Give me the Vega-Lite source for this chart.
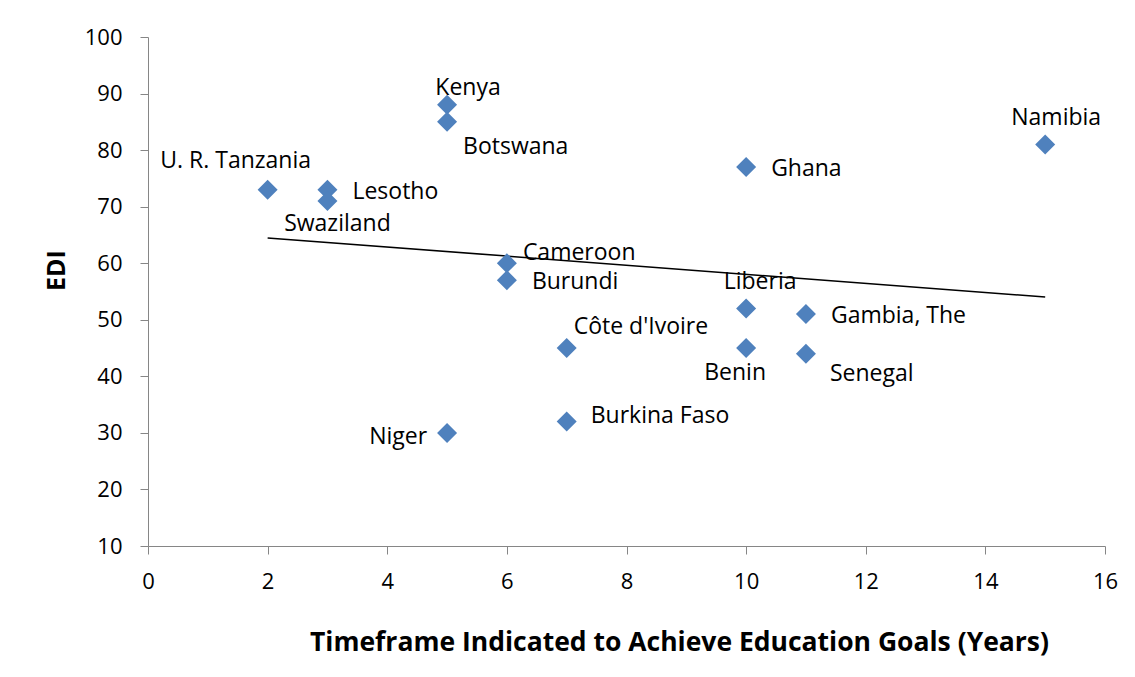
{
  "$schema": "https://vega.github.io/schema/vega-lite/v6.json",
  "width": 957,
  "height": 509,
  "autosize": {"type": "none"},
  "padding": {"left": 148, "top": 37, "right": 30, "bottom": 131},
  "background": "white",
  "config": {
    "view": {"stroke": null},
    "font": "Open Sans",
    "text": {"font": "Open Sans", "fontSize": 23, "color": "black"}
  },
  "data": {
    "values": [
      {"country": "U. R. Tanzania", "years": 2, "EDI": 73},
      {"country": "Lesotho", "years": 3, "EDI": 73},
      {"country": "Swaziland", "years": 3, "EDI": 71},
      {"country": "Kenya", "years": 5, "EDI": 88},
      {"country": "Botswana", "years": 5, "EDI": 85},
      {"country": "Niger", "years": 5, "EDI": 30},
      {"country": "Cameroon", "years": 6, "EDI": 60},
      {"country": "Burundi", "years": 6, "EDI": 57},
      {"country": "Côte d'Ivoire", "years": 7, "EDI": 45},
      {"country": "Burkina Faso", "years": 7, "EDI": 32},
      {"country": "Ghana", "years": 10, "EDI": 77},
      {"country": "Liberia", "years": 10, "EDI": 52},
      {"country": "Benin", "years": 10, "EDI": 45},
      {"country": "Gambia, The", "years": 11, "EDI": 51},
      {"country": "Senegal", "years": 11, "EDI": 44},
      {"country": "Namibia", "years": 15, "EDI": 81}
    ]
  },
  "encoding": {
    "x": {
      "field": "years", "type": "quantitative",
      "scale": {"domain": [0, 16], "nice": false, "zero": false},
      "axis": {
        "values": [0, 2, 4, 6, 8, 10, 12, 14, 16],
        "grid": false, "labelFlush": false,
        "domainColor": "#868686", "tickColor": "#868686",
        "tickSize": 8, "labelPadding": 17,
        "labelFont": "Open Sans", "labelFontSize": 22, "labelColor": "black",
        "title": "Timeframe Indicated to Achieve Education Goals (Years)",
        "titleFont": "Open Sans", "titleFontSize": 26.5, "titleFontWeight": "bold", "titleColor": "black",
        "titleX": 531, "titleY": 96, "titleAlign": "center", "titleBaseline": "middle"
      }
    },
    "y": {
      "field": "EDI", "type": "quantitative",
      "scale": {"domain": [10, 100], "nice": false, "zero": false},
      "axis": {
        "values": [10, 20, 30, 40, 50, 60, 70, 80, 90, 100],
        "grid": false, "labelFlush": false,
        "domainColor": "#868686", "tickColor": "#868686",
        "tickSize": 8, "labelPadding": 18,
        "labelFont": "Open Sans", "labelFontSize": 22, "labelColor": "black",
        "title": "EDI",
        "titleFont": "Open Sans", "titleFontSize": 25, "titleFontWeight": "bold", "titleColor": "black",
        "titleX": -92, "titleY": 233, "titleAlign": "center", "titleBaseline": "middle", "titleAngle": -90
      }
    }
  },
  "layer": [
    {
      "transform": [{"regression": "EDI", "on": "years"}],
      "mark": {"type": "line", "color": "black", "strokeWidth": 1.5}
    },
    {
      "mark": {"type": "point", "shape": "diamond", "filled": true, "size": 400, "color": "#4F81BD", "opacity": 1}
    },
    {
      "transform": [{"filter": {"field": "country", "oneOf": ["Lesotho", "Ghana", "Burundi", "Gambia, The"]}}],
      "mark": {"type": "text", "align": "left", "baseline": "middle", "dx": 25, "dy": 2},
      "encoding": {"text": {"field": "country"}}
    },
    {
      "transform": [{"filter": {"field": "country", "equal": "Burkina Faso"}}],
      "mark": {"type": "text", "align": "left", "baseline": "middle", "dx": 24, "dy": -6},
      "encoding": {"text": {"field": "country"}}
    },
    {
      "transform": [{"filter": {"field": "country", "equal": "Senegal"}}],
      "mark": {"type": "text", "align": "left", "baseline": "middle", "dx": 24, "dy": 20},
      "encoding": {"text": {"field": "country"}}
    },
    {
      "transform": [{"filter": {"field": "country", "equal": "Botswana"}}],
      "mark": {"type": "text", "align": "left", "baseline": "middle", "dx": 16, "dy": 25},
      "encoding": {"text": {"field": "country"}}
    },
    {
      "transform": [{"filter": {"field": "country", "equal": "Cameroon"}}],
      "mark": {"type": "text", "align": "left", "baseline": "middle", "dx": 16, "dy": -10},
      "encoding": {"text": {"field": "country"}}
    },
    {
      "transform": [{"filter": {"field": "country", "equal": "Côte d'Ivoire"}}],
      "mark": {"type": "text", "align": "left", "baseline": "middle", "dx": 7, "dy": -21},
      "encoding": {"text": {"field": "country"}}
    },
    {
      "transform": [{"filter": {"field": "country", "equal": "Kenya"}}],
      "mark": {"type": "text", "align": "center", "baseline": "middle", "dx": 21, "dy": -17},
      "encoding": {"text": {"field": "country"}}
    },
    {
      "transform": [{"filter": {"field": "country", "equal": "Namibia"}}],
      "mark": {"type": "text", "align": "center", "baseline": "middle", "dx": 11, "dy": -26},
      "encoding": {"text": {"field": "country"}}
    },
    {
      "transform": [{"filter": {"field": "country", "equal": "Liberia"}}],
      "mark": {"type": "text", "align": "center", "baseline": "middle", "dx": 14, "dy": -26},
      "encoding": {"text": {"field": "country"}}
    },
    {
      "transform": [{"filter": {"field": "country", "equal": "U. R. Tanzania"}}],
      "mark": {"type": "text", "align": "center", "baseline": "middle", "dx": -32, "dy": -29},
      "encoding": {"text": {"field": "country"}}
    },
    {
      "transform": [{"filter": {"field": "country", "equal": "Swaziland"}}],
      "mark": {"type": "text", "align": "center", "baseline": "middle", "dx": 10, "dy": 23},
      "encoding": {"text": {"field": "country"}}
    },
    {
      "transform": [{"filter": {"field": "country", "equal": "Benin"}}],
      "mark": {"type": "text", "align": "center", "baseline": "middle", "dx": -11, "dy": 25},
      "encoding": {"text": {"field": "country"}}
    },
    {
      "transform": [{"filter": {"field": "country", "equal": "Niger"}}],
      "mark": {"type": "text", "align": "right", "baseline": "middle", "dx": -20, "dy": 4},
      "encoding": {"text": {"field": "country"}}
    }
  ]
}
